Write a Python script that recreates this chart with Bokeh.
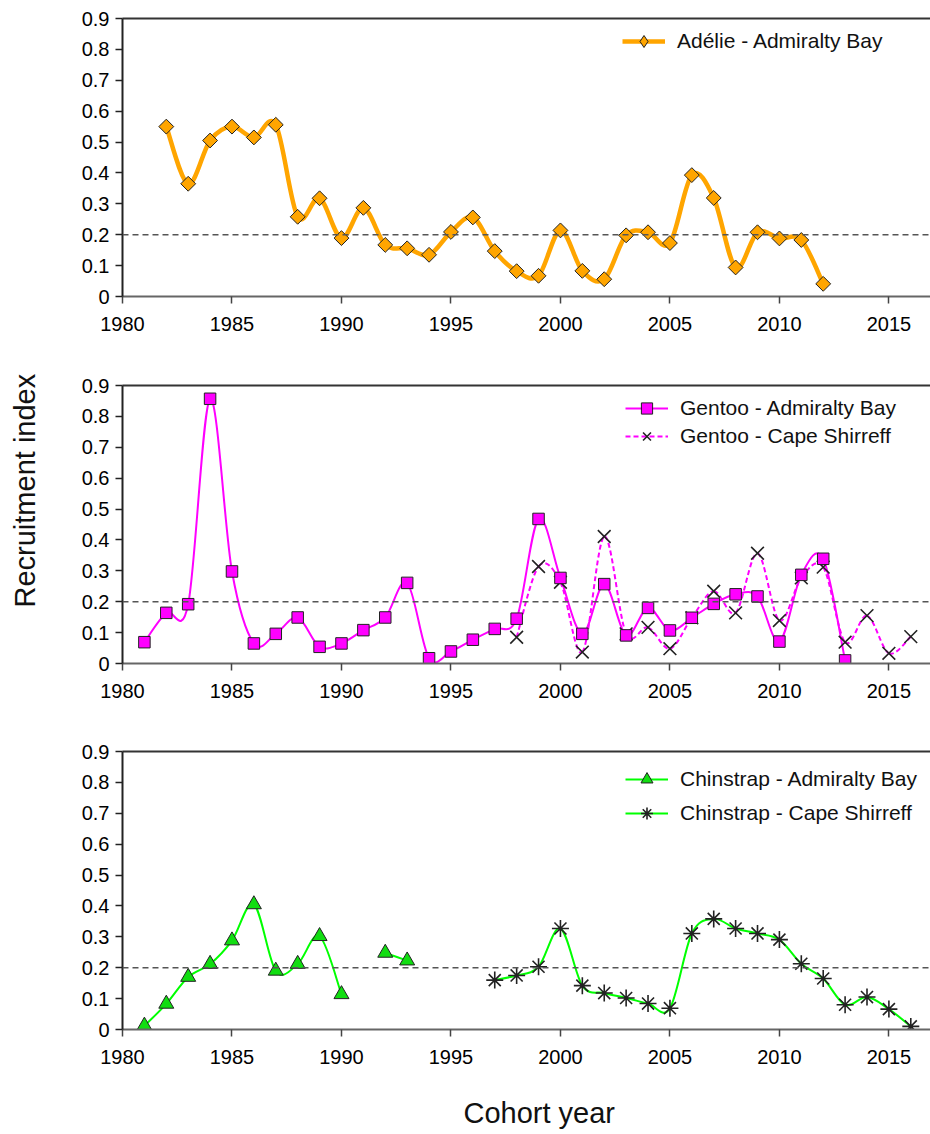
import math
from bokeh.plotting import figure
from bokeh.layouts import column
from bokeh.models import (Range1d, FixedTicker, LinearAxis, Span, Legend,
                          LegendItem, Title, ColumnDataSource)
from bokeh.embed import file_html
from bokeh.resources import INLINE

# ---- recruitment index data ----
adelie_ab_years = list(range(1982, 2013))
adelie_ab = [0.55, 0.365, 0.505, 0.55, 0.515, 0.556, 0.258, 0.318, 0.189, 0.287,
             0.167, 0.156, 0.135, 0.209, 0.256, 0.147, 0.082, 0.067, 0.214, 0.083,
             0.056, 0.198, 0.208, 0.173, 0.393, 0.319, 0.094, 0.208, 0.188, 0.183,
             0.041]

gentoo_ab_years = list(range(1981, 2014))
gentoo_ab = [0.069, 0.164, 0.192, 0.857, 0.298, 0.065, 0.096, 0.149, 0.054, 0.065,
             0.108, 0.149, 0.261, 0.017, 0.039, 0.077, 0.112, 0.145, 0.468, 0.277,
             0.096, 0.257, 0.091, 0.180, 0.107, 0.148, 0.193, 0.224, 0.217, 0.071,
             0.287, 0.339, 0.010]

gentoo_cs_years = list(range(1998, 2017))
gentoo_cs = [0.085, 0.314, 0.263, 0.037, 0.411, 0.096, 0.117, 0.048, 0.148, 0.234,
             0.164, 0.357, 0.139, 0.277, 0.312, 0.069, 0.155, 0.033, 0.087]

chinstrap_ab_years = [1981, 1982, 1983, 1984, 1985, 1986, 1987, 1988, 1989, 1990,
                      1992, 1993]
chinstrap_ab = [0.012, 0.083, 0.170, 0.212, 0.288, 0.405, 0.190, 0.212, 0.302,
                0.114, 0.248, 0.223]

chinstrap_cs_years = list(range(1997, 2017))
chinstrap_cs = [0.160, 0.175, 0.203, 0.327, 0.142, 0.118, 0.102, 0.084, 0.069,
                0.311, 0.358, 0.327, 0.311, 0.291, 0.213, 0.165, 0.080, 0.105,
                0.066, 0.010]

x_tick_values = [1980, 1985, 1990, 1995, 2000, 2005, 2010, 2015]
y_tick_values = [0, 0.1, 0.2, 0.3, 0.4, 0.5, 0.6, 0.7, 0.8, 0.9]
y_tick_labels = ["0", "0.1", "0.2", "0.3", "0.4", "0.5", "0.6", "0.7", "0.8", "0.9"]
threshold = 0.2

FONT = "Liberation Sans"
ORANGE = "#FFA500"
MAGENTA = "#FF00FF"
GREEN = "#00FF00"


def smooth_segments(xs, ys):
    """Cubic Bezier pieces (Catmull-Rom style) through consecutive-year runs."""
    runs, cur = [], [(xs[0], ys[0])]
    for x, y in zip(xs[1:], ys[1:]):
        if x - cur[-1][0] == 1:
            cur.append((x, y))
        else:
            runs.append(cur)
            cur = [(x, y)]
    runs.append(cur)
    d = dict(x0=[], y0=[], x1=[], y1=[], cx0=[], cy0=[], cx1=[], cy1=[])
    for pts in runs:
        n = len(pts)
        for i in range(n - 1):
            p0 = pts[i - 1] if i > 0 else pts[i]
            p1, p2 = pts[i], pts[i + 1]
            p3 = pts[i + 2] if i + 2 < n else pts[i + 1]
            d["x0"].append(p1[0]); d["y0"].append(p1[1])
            d["x1"].append(p2[0]); d["y1"].append(p2[1])
            d["cx0"].append(p1[0] + (p2[0] - p0[0]) / 6)
            d["cy0"].append(p1[1] + (p2[1] - p0[1]) / 6)
            d["cx1"].append(p2[0] - (p3[0] - p1[0]) / 6)
            d["cy1"].append(p2[1] - (p3[1] - p1[1]) / 6)
    return ColumnDataSource(d)


def frame_edge():
    """Plain line along the top of the frame."""
    return LinearAxis(ticker=FixedTicker(ticks=[]), axis_line_color="#333333",
                      axis_line_width=2, major_tick_line_color=None,
                      minor_tick_line_color=None, major_label_text_font_size="0px")


def spacer_axis(gap, anchor):
    """Invisible axis whose single hidden tick reserves `gap` pixels."""
    return LinearAxis(ticker=FixedTicker(ticks=[anchor]), axis_line_color=None,
                      major_tick_line_color=None, minor_tick_line_color=None,
                      major_tick_in=0, major_tick_out=gap, minor_tick_out=0,
                      major_label_standoff=0, major_label_overrides={anchor: ""},
                      major_label_text_font_size="0px")


def make_panel(height, top, bottom):
    p = figure(width=930, height=height, output_backend="svg", toolbar_location=None,
               x_range=Range1d(1980, 2016.9), y_range=Range1d(0, 0.9),
               min_border_left=122, min_border_right=0,
               min_border_top=top, min_border_bottom=bottom)
    p.outline_line_color = None
    p.grid.visible = False
    p.background_fill_color = "white"

    p.xaxis.ticker = FixedTicker(ticks=x_tick_values)
    p.yaxis.ticker = FixedTicker(ticks=y_tick_values)
    p.yaxis.major_label_overrides = {v: s for v, s in zip(y_tick_values, y_tick_labels)}
    for ax in (p.xaxis, p.yaxis):
        ax.minor_tick_line_color = None
        ax.major_tick_in = 0
        ax.major_tick_out = 7
        ax.major_tick_line_width = 1.5
        ax.major_label_text_font = FONT
        ax.major_label_text_font_size = "20px"
        ax.major_label_text_color = "black"
        ax.axis_line_width = 2
    p.yaxis.major_label_standoff = 6
    p.xaxis.major_label_standoff = 13
    p.yaxis.axis_line_color = "#222222"
    p.yaxis.major_tick_line_color = "#222222"
    p.xaxis.axis_line_color = "#666666"
    p.xaxis.major_tick_line_color = "#444444"

    p.add_layout(frame_edge(), "above")

    p.add_layout(Span(location=threshold, dimension="width", line_color="#555555",
                      line_width=1.5, line_dash="6 4"))
    return p


def style_legend(p, items, loc, glyph_h, spacing):
    leg = Legend(items=items, location=loc, padding=0, margin=0, spacing=spacing,
                 glyph_width=43, glyph_height=glyph_h, label_height=glyph_h,
                 label_standoff=12, border_line_color=None,
                 background_fill_alpha=0, label_text_font=FONT,
                 label_text_font_size="21px", label_text_color="#111111")
    p.add_layout(leg, "center")


# ---- Adélie ----
p1 = make_panel(340, 18, 44)
l1 = p1.bezier("x0", "y0", "x1", "y1", "cx0", "cy0", "cx1", "cy1",
               source=smooth_segments(adelie_ab_years, adelie_ab),
               line_color=ORANGE, line_width=4.5)
m1 = p1.scatter(adelie_ab_years, adelie_ab, marker="square", angle=math.pi / 4,
                size=10.5, fill_color=ORANGE, line_color="#222222", line_width=1)
# diamond key for the legend only (the plotted markers are rotated squares)
k1 = p1.scatter(adelie_ab_years, adelie_ab, marker="diamond", fill_color=ORANGE,
                line_color="#222222", line_width=1, visible=False)
style_legend(p1, [LegendItem(label="Adélie - Admiralty Bay", renderers=[l1, k1])],
             (500, 240), 30, 0)

# ---- Gentoo ----
p2 = make_panel(366, 45, 43)
l2 = p2.bezier("x0", "y0", "x1", "y1", "cx0", "cy0", "cx1", "cy1",
               source=smooth_segments(gentoo_ab_years, gentoo_ab),
               line_color=MAGENTA, line_width=2)
l2b = p2.bezier("x0", "y0", "x1", "y1", "cx0", "cy0", "cx1", "cy1",
                source=smooth_segments(gentoo_cs_years, gentoo_cs),
                line_color=MAGENTA, line_width=2, line_dash="5 3")
m2b = p2.scatter(gentoo_cs_years, gentoo_cs, marker="x", size=18,
                 line_color="#222222", line_width=1.6)
m2 = p2.scatter(gentoo_ab_years, gentoo_ab, marker="square", size=11.5,
                fill_color=MAGENTA, line_color="#222222", line_width=1)
style_legend(p2, [LegendItem(label="Gentoo - Admiralty Bay", renderers=[l2, m2]),
                  LegendItem(label="Gentoo - Cape Shirreff", renderers=[l2b, m2b])],
             (503, 213), 28, 0)

# shared y-axis title, pushed out towards the page edge
p2.add_layout(spacer_axis(38, y_tick_values[0]), "left")
p2.add_layout(Title(text="Recruitment index", align="left", offset=56, standoff=0,
                    text_font=FONT, text_font_size="29px", text_font_style="normal",
                    text_color="#111111"), "left")

# ---- Chinstrap ----
p3 = make_panel(428, 45, 105)
l3 = p3.bezier("x0", "y0", "x1", "y1", "cx0", "cy0", "cx1", "cy1",
               source=smooth_segments(chinstrap_ab_years, chinstrap_ab),
               line_color=GREEN, line_width=2)
l3b = p3.bezier("x0", "y0", "x1", "y1", "cx0", "cy0", "cx1", "cy1",
                source=smooth_segments(chinstrap_cs_years, chinstrap_cs),
                line_color=GREEN, line_width=2)
m3 = p3.scatter(chinstrap_ab_years, chinstrap_ab, marker="triangle", size=15,
                fill_color="#11DD11", line_color="#222222", line_width=1)
m3b = p3.scatter(chinstrap_cs_years, chinstrap_cs, marker="asterisk", size=17,
                 line_color="#222222", line_width=1.6)
style_legend(p3, [LegendItem(label="Chinstrap - Admiralty Bay", renderers=[l3, m3]),
                  LegendItem(label="Chinstrap - Cape Shirreff", renderers=[l3b, m3b])],
             (503, 201), 30, 4)

p3.add_layout(spacer_axis(28, x_tick_values[0]), "below")
p3.add_layout(Title(text="Cohort year", align="left", offset=341, standoff=0,
                    text_font=FONT, text_font_size="29px", text_font_style="normal",
                    text_color="#111111"), "below")

layout = column(p1, p2, p3, spacing=0)
open("out.html", "w").write(file_html(layout, INLINE))
